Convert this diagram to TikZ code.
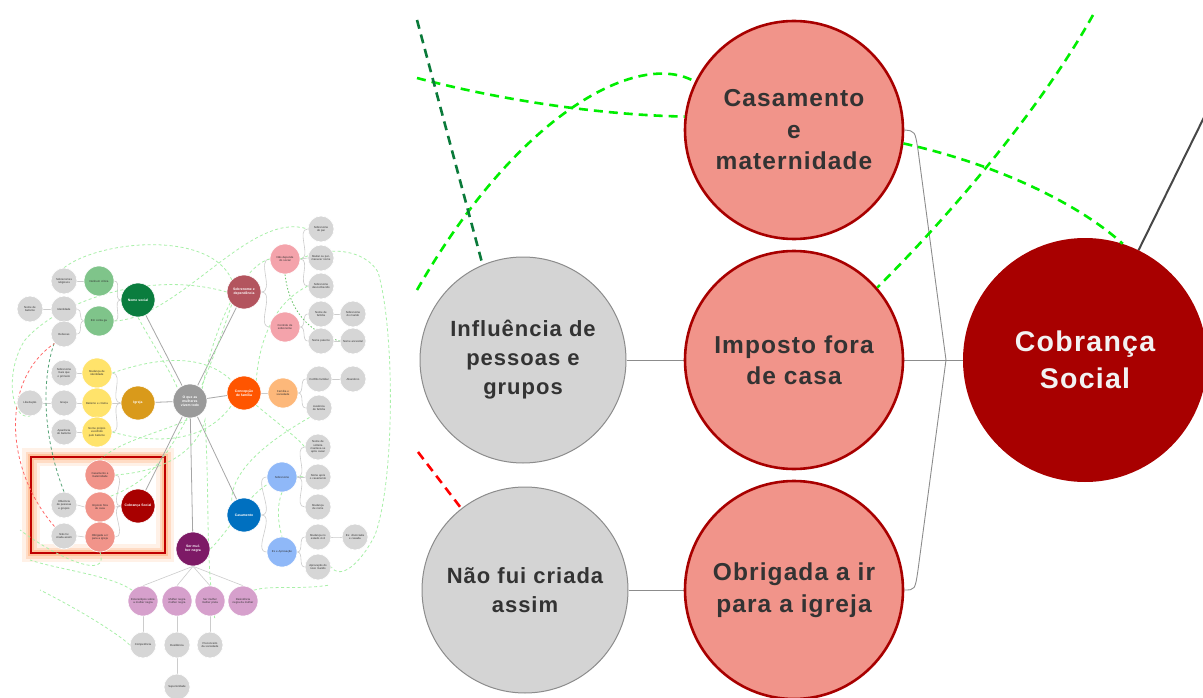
\documentclass[tikz,border=0pt]{standalone}
\usepackage{fontspec}
\usetikzlibrary{backgrounds}
\setmainfont{Liberation Sans}
\newfontfamily\wide{Liberation Sans}[LetterSpace=4.5]
\definecolor{txt}{HTML}{333333}
\definecolor{pinkfill}{HTML}{F1948A}
\definecolor{darkred}{HTML}{A80000}
\definecolor{bggray}{HTML}{D4D4D4}
\definecolor{leafgray}{HTML}{D6D6D6}
\definecolor{nsgreen}{HTML}{0A7D3E}
\definecolor{lgreen}{HTML}{7FC48A}
\definecolor{gold}{HTML}{D99A1B}
\definecolor{lyellow}{HTML}{FFE36B}
\definecolor{hubgray}{HTML}{9A9A9A}
\definecolor{rose}{HTML}{B3545E}
\definecolor{lrose}{HTML}{F4A3AB}
\definecolor{orng}{HTML}{FF5500}
\definecolor{lorng}{HTML}{FDB87A}
\definecolor{blu}{HTML}{0070C0}
\definecolor{lblu}{HTML}{8FB8F8}
\definecolor{purp}{HTML}{7D1A66}
\definecolor{lpurp}{HTML}{D6A0CC}
\definecolor{brgreen}{HTML}{00EE00}
\definecolor{dkgreen}{HTML}{0A7A3A}
\definecolor{paleg}{HTML}{A8F0A8}
\definecolor{glow}{HTML}{FF8C40}
\definecolor{boxred}{HTML}{C00000}
\tikzset{
  ov/.style={circle, inner sep=0pt, align=center, text=txt, draw=white, line width=0.6pt,
    font=\fontsize{2.8}{3.3}\selectfont},
  ovleaf/.style={ov, fill=leafgray, minimum size=26pt, text width=20pt},
  ovsub/.style={ov, minimum size=30pt, text width=24pt},
  ovcat/.style={ov, minimum size=34pt, text width=28pt, text=white,
    font=\fontsize{3.4}{4}\selectfont\bfseries},
  ovline/.style={draw=black!20, line width=0.6pt},
  hubline/.style={draw=black!35, line width=0.8pt},
  pdash/.style={draw=paleg, line width=0.8pt, dash pattern=on 3pt off 2.5pt},
  bigpink/.style={circle, fill=pinkfill, draw=darkred, line width=2.6pt, minimum size=218pt,
    inner sep=0pt, align=center, text=txt, font=\wide\bfseries\fontsize{24.5}{31.5}\selectfont},
  biggray/.style={circle, fill=bggray, draw=black!45, line width=1pt, minimum size=206pt,
    inner sep=0pt, align=center, text=txt, font=\wide\bfseries\fontsize{22}{29}\selectfont},
  bigred/.style={circle, fill=darkred, minimum size=244pt, inner sep=0pt, align=center,
    text=white!95!black, font=\wide\bfseries\fontsize{28.5}{37}\selectfont},
  gdash/.style={draw=brgreen, line width=2.6pt, dash pattern=on 9pt off 6pt},
  conn/.style={draw=black!45, line width=0.9pt},
}
\begin{document}
\begin{tikzpicture}[x=1pt,y=-1pt]
\useasboundingbox (0,0) rectangle (1203,698);
\begin{pgfonlayer}{background}
\fill[white] (0,0) rectangle (1203,698);
% highlight box glow
\draw[glow, opacity=0.12, line width=18pt] (31,457) rectangle (165,553);
\draw[glow, opacity=0.2, line width=11pt] (31,457) rectangle (165,553);
\draw[glow, opacity=0.3, line width=6pt] (31,457) rectangle (165,553);
\draw[boxred, line width=2.6pt] (31,457) rectangle (165,553);
\end{pgfonlayer}

% ================= overview nodes =================
\node[ovcat, fill=hubgray] (hub) at (190,401) {O que as mulheres vivem todo};
\node[ovcat, fill=nsgreen] (ns) at (138,300) {Nome social};
\node[ovsub, fill=lgreen] (g1) at (99,281) {Nenhum crítica};
\node[ovsub, fill=lgreen] (g2) at (99,321) {Em conta ga};
\node[ovleaf] (l1) at (64,281) {Sobrenomes religiosos};
\node[ovleaf] (l2) at (64,309) {Identidade};
\node[ovleaf] (l3) at (30,309) {Nome de batismo};
\node[ovleaf] (l4) at (64,334) {Rebecas};

\node[ovcat, fill=gold] (ig) at (138,403) {Igreja};
\node[ovsub, fill=lyellow] (y1) at (97,373) {Mudança de identidade};
\node[ovsub, fill=lyellow] (y2) at (97,403) {Batismo e crisma};
\node[ovsub, fill=lyellow] (y3) at (97,432) {Nome próprio escolhido pelo batismo};
\node[ovleaf] (l5) at (64,373) {Sobrenome mais que o primeiro};
\node[ovleaf] (l6) at (64,403) {Graça};
\node[ovleaf] (l7) at (30,403) {Libertação};
\node[ovleaf] (l8) at (64,432) {Aparência do batismo};

\node[ovcat, fill=rose] (sd) at (244,292) {Sobrenome e dependência};
\node[ovsub, fill=lrose] (p1) at (285,259) {Não depende do social};
\node[ovsub, fill=lrose] (p2) at (285,327) {Controle de sobrenome};
\node[ovleaf] (l9) at (321,229) {Sobrenome do pai};
\node[ovleaf] (l10) at (321,258) {Mudar ou permanecer nome};
\node[ovleaf] (l11) at (321,286) {Sobrenome desconhecido};
\node[ovleaf] (l12) at (321,314) {Nome de família};
\node[ovleaf] (l13) at (353,314) {Sobrenome do marido};
\node[ovleaf] (l14) at (321,341) {Nome paterno};
\node[ovleaf] (l15) at (353,341) {Nome ancestral};

\node[ovcat, fill=orng] (cf) at (244,393) {Concepção de família};
\node[ovsub, fill=lorng] (o1) at (283,393) {Família e sociedade};
\node[ovleaf] (l16) at (319,379) {Conflito familiar};
\node[ovleaf] (l17) at (353,379) {Abandono};
\node[ovleaf] (l18) at (319,408) {Ausência de família};

\node[ovcat, fill=blu] (ca) at (244,515) {Casamento};
\node[ovsub, fill=lblu] (b1) at (282,477) {Sobrenome};
\node[ovsub, fill=lblu] (b2) at (282,552) {Ex e Aprovação};
\node[ovleaf] (l19) at (318,447) {Nome de solteira manteve-se após casar};
\node[ovleaf] (l20) at (318,477) {Nome após o casamento};
\node[ovleaf] (l21) at (318,507) {Mudança de nome};
\node[ovleaf] (l22) at (318,537) {Mudança no estado civil};
\node[ovleaf] (l23) at (355,537) {Ex: divorciada e casada};
\node[ovleaf] (l24) at (318,567) {Aprovação do novo marido};

\node[ovcat, fill=darkred] (cs) at (138,506) {Cobrança Social};
\node[ovsub, fill=pinkfill] (c1) at (100,475) {Casamento e maternidade};
\node[ovsub, fill=pinkfill] (c2) at (100,507) {Imposto fora de casa};
\node[ovsub, fill=pinkfill] (c3) at (100,537) {Obrigada a ir para a igreja};
\node[ovleaf] (l25) at (64,505) {Influência de pessoas e grupos};
\node[ovleaf] (l26) at (64,536) {Não fui criada assim};

\node[ovcat, fill=purp] (sm) at (193,549) {Ser mulher negra};
\node[ovsub, fill=lpurp] (m1) at (143,601) {Estereótipos sobre a mulher negra};
\node[ovsub, fill=lpurp] (m2) at (177,601) {Mulher negra mulher negra};
\node[ovsub, fill=lpurp] (m3) at (210,601) {Ser mulher mulher preta};
\node[ovsub, fill=lpurp] (m4) at (243,601) {Resistência negra da mulher};
\node[ovleaf] (l27) at (143,645) {Competência};
\node[ovleaf] (l28) at (177,645) {Resiliência};
\node[ovleaf] (l29) at (210,645) {Preconceito da sociedade};
\node[ovleaf] (l30) at (177,687) {Superioridade};

% overview connectors
\begin{pgfonlayer}{background}
\foreach \c in {ns,ig,sd,cf,ca,cs,sm} \draw[hubline] (hub) -- (\c);
% left groups: child.east -> parent.west
\foreach \a/\b in {g1/ns,g2/ns,l1/g1,l2/g2,l4/g2,l3/l2,y1/ig,y2/ig,y3/ig,l5/y1,l6/y2,l7/l6,l8/y3,
  c1/cs,c2/cs,c3/cs,l25/c2,l26/c3}
  \draw[ovline] (\a.east) to[out=0,in=180] (\b.west);
% right groups: parent.east -> child.west
\foreach \a/\b in {sd/p1,sd/p2,p1/l9,p1/l10,p1/l11,p2/l12,p2/l14,l12/l13,l14/l15,cf/o1,o1/l16,o1/l18,
  l16/l17,ca/b1,ca/b2,b1/l19,b1/l20,b1/l21,b2/l22,b2/l24,l22/l23}
  \draw[ovline] (\a.east) to[out=0,in=180] (\b.west);
\foreach \m in {m1,m2,m3,m4} \draw[ovline] (sm.south) -- (\m.north);
\foreach \a/\b in {m1/l27,m2/l28,m3/l29,l28/l30} \draw[ovline] (\a) -- (\b);
% overview cross links (dashed)
\draw[pdash] (g2.east) .. controls (180,318) and (250,210) .. (l9.west);
\draw[pdash] (hub.north east) .. controls (215,320) and (245,265) .. (p1.west);
\draw[pdash] (p1.east) .. controls (330,245) and (365,250) .. (378,272) .. controls (395,330) and (395,480) .. (375,535) .. controls (360,565) and (340,580) .. (l24.east);
\draw[pdash] (sd.west) .. controls (150,270) and (60,300) .. (25,340) .. controls (5,370) and (10,420) .. (l7.south);
\draw[pdash] (ns.south) .. controls (150,340) and (170,370) .. (hub.north west);
\draw[pdash] (l1.north) .. controls (100,240) and (210,230) .. (sd.north west);
\draw[pdash] (y1.east) .. controls (150,360) and (200,350) .. (cf.north west);
\draw[pdash] (y3.east) .. controls (140,440) and (200,450) .. (cf.south west);
\draw[pdash] (cf.south east) .. controls (280,425) and (300,440) .. (l19.west);
\draw[pdash] (l18.south west) .. controls (270,440) and (230,470) .. (ca.north west);
\draw[pdash] (c1.north) .. controls (120,440) and (170,430) .. (hub.south);
\draw[pdash] (c1.east) .. controls (180,470) and (200,440) .. (205,420) .. controls (210,500) and (205,560) .. (215,620);
\draw[pdash] (c2.north east) .. controls (150,480) and (180,460) .. (sd.south west);
\draw[pdash] (c3.south) .. controls (110,580) and (60,560) .. (20,530);
\draw[pdash] (l27.west) .. controls (120,635) and (80,610) .. (40,590);
\draw[pdash] (m1.north west) .. controls (110,575) and (60,570) .. (30,560);
\draw[pdash] (m4.north east) .. controls (270,585) and (300,590) .. (330,585);
\draw[pdash] (b1.south) .. controls (275,510) and (280,530) .. (b2.north);
\draw[pdash] (l11.west) .. controls (280,300) and (260,330) .. (cf.north east);
\draw[pdash] (sm.east) .. controls (240,520) and (255,470) .. (l20.west);
\draw[draw=dkgreen!70, line width=0.8pt, dash pattern=on 3pt off 2.5pt] (l25.north) .. controls (40,430) and (40,360) .. (l2.south);
\draw[draw=red!60, line width=0.8pt, dash pattern=on 3pt off 2.5pt] (l26.north west) .. controls (5,470) and (0,380) .. (l4.south west);
\draw[draw=green!60!black!60, line width=0.8pt, dash pattern=on 1.5pt off 2pt] (p1.south) .. controls (288,300) and (300,330) .. (l15.west);
\end{pgfonlayer}

% ================= right panel =================
\node[bigpink] (cm) at (794,130) {Casamento\\e\\maternidade};
\node[bigpink] (im) at (794,360) {Imposto fora\\de casa};
\node[bigpink] (ob) at (794,590) {Obrigada a ir\\para a igreja};
\node[biggray] (gi) at (523,360) {Influência de\\pessoas e\\grupos};
\node[biggray] (nf) at (525,590) {Não fui criada\\assim};
\node[bigred] (cb) at (1085,360) {Cobrança\\Social};
\coordinate (j) at (946,360);
\coordinate (hubdir) at (1215,95);
\coordinate (dg0) at (417,20);
\coordinate (rd0) at (418,452);
\coordinate (gr1) at (417,78);
\coordinate (gr2) at (417,290);
\coordinate (gr4) at (1093,15);

\begin{pgfonlayer}{background}
\draw[conn] (gi.east) -- (im.west);
\draw[conn] (nf.east) -- (ob.west);
\draw[conn] (im.east) -- (cb.west);
\draw[conn] (cm.east) .. controls (915,131) .. (918,150) -- (j);
\draw[conn] (ob.east) .. controls (915,590) .. (918,570) -- (j);
\draw[draw=black!72, line width=2pt] (cb.64) -- (hubdir);
\end{pgfonlayer}

\draw[gdash] (gr1) .. controls (500,100) and (600,115) .. (cm.173);
\draw[gdash] (gr2) .. controls (520,110) and (640,50) .. (cm.154);
\draw[gdash] (cm.-7) .. controls (1000,165) and (1080,205) .. (cb.72);
\draw[gdash] (gr4) .. controls (1040,110) and (950,215) .. (im.41);
\draw[draw=dkgreen, line width=2.6pt, dash pattern=on 9pt off 6pt] (dg0) -- (gi.113);
\draw[draw=red, line width=2.6pt, dash pattern=on 9pt off 6pt] (rd0) -- (nf.128);
\end{tikzpicture}
\end{document}
